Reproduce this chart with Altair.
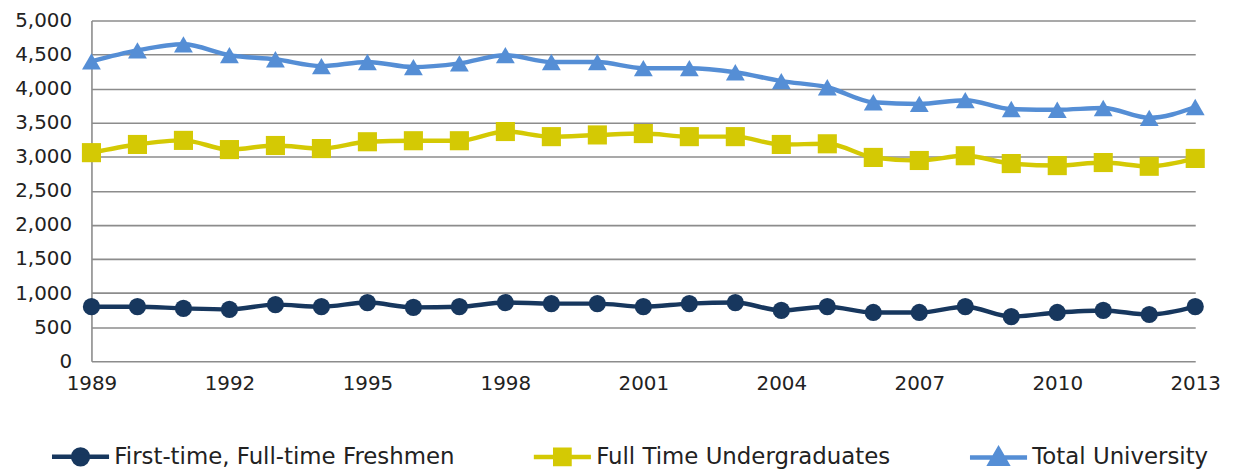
import altair as alt
import pandas as pd

years = list(range(1989, 2014))
freshmen = [800, 800, 775, 760, 830, 800, 860, 790, 800, 860, 845, 845, 800,
            845, 860, 745, 800, 715, 715, 800, 655, 715, 745, 685, 800]
undergrads = [3060, 3180, 3240, 3105, 3165, 3120, 3220, 3235, 3235, 3370, 3295,
              3320, 3340, 3295, 3295, 3180, 3190, 2990, 2945, 3015, 2900, 2870,
              2915, 2860, 2975]
total = [4400, 4560, 4650, 4490, 4430, 4330, 4390, 4315, 4370, 4490, 4390, 4390,
         4300, 4300, 4240, 4110, 4020, 3800, 3775, 3830, 3700, 3690, 3715, 3570,
         3730]

series_names = ["First-time, Full-time Freshmen", "Full Time Undergraduates", "Total University"]
series_values = [freshmen, undergrads, total]
colors = ["#17375E", "#D4C904", "#558ED5"]
shapes = ["circle", "square", "triangle-up"]
sizes = [300, 370, 360]
year_ticks = [1989, 1992, 1995, 1998, 2001, 2004, 2007, 2010, 2013]
y_ticks = list(range(0, 5001, 500))

legend_paths = [
    "M-1,0H1M-0.26,0A0.26,0.26 0 1,0 0.26,0A0.26,0.26 0 1,0 -0.26,0Z",
    "M-1,0H1M-0.25,-0.25H0.25V0.25H-0.25Z",
    "M-1,0H1M0,-0.28L0.29,0.22H-0.29Z",
]

rows = []
for name, vals in zip(series_names, series_values):
    for yr, v in zip(years, vals):
        rows.append({"year": yr, "value": v, "series": name})
df = pd.DataFrame(rows)

FONT = "DejaVu Sans"

x_enc = alt.X("year:Q", scale=alt.Scale(domain=[1989, 2013], nice=False),
              axis=alt.Axis(values=year_ticks, format="d", title=None, grid=False,
                            ticks=False, domain=False, labelFontSize=20,
                            labelFont=FONT, labelColor="#222222", labelPadding=12,
                            labelFlush=False, labelOverlap=False))
y_enc = alt.Y("value:Q", scale=alt.Scale(domain=[0, 5000], nice=False),
              axis=alt.Axis(values=y_ticks, format=",.0f", title=None, grid=True,
                            gridColor="#8C8C8C", gridWidth=1.6, ticks=False,
                            domain=True, domainColor="#8C8C8C", domainWidth=1.6,
                            labelFontSize=20, labelFont=FONT, labelColor="#222222",
                            labelPadding=20, labelFlush=False, labelOverlap=False))

base = alt.Chart(df)

layers = []
for name, col in zip(series_names, colors):
    ln = base.transform_filter(alt.datum.series == name).mark_line(
        interpolate="monotone", strokeWidth=4.5, color=col
    ).encode(x=x_enc, y=y_enc)
    layers.append(ln)

for name, col, shp, sz in zip(series_names, colors, shapes, sizes):
    pts = base.transform_filter(alt.datum.series == name).mark_point(
        shape=shp, filled=True, size=sz, opacity=1, color=col
    ).encode(x=x_enc, y=y_enc)
    layers.append(pts)

legend = alt.Legend(
    title="", orient="none", legendX=-42, legendY=408, direction="horizontal",
    labelFontSize=23, labelFont=FONT, labelColor="#222222", symbolSize=3300,
    symbolStrokeWidth=4.5, symbolOpacity=1, columnPadding=70, labelOffset=3,
    labelLimit=600, padding=0, titlePadding=0, titleFontSize=1,
)
legend_layer = base.transform_filter("false").mark_point(filled=True, opacity=1).encode(
    x=x_enc, y=y_enc,
    fill=alt.Fill("series:N", scale=alt.Scale(domain=series_names, range=colors), legend=legend),
    stroke=alt.Stroke("series:N", scale=alt.Scale(domain=series_names, range=colors), legend=legend),
    shape=alt.Shape("series:N", scale=alt.Scale(domain=series_names, range=legend_paths), legend=legend),
)
layers.append(legend_layer)

chart = alt.layer(*layers).properties(
    width=1111, height=343,
    padding={"left": 84, "top": 11, "right": 35, "bottom": 109},
    autosize=alt.AutoSizeParams(type="none"),
    background="white",
).configure_view(stroke=None)

chart.save("out.html", embed_options={"renderer": "svg", "actions": False})
